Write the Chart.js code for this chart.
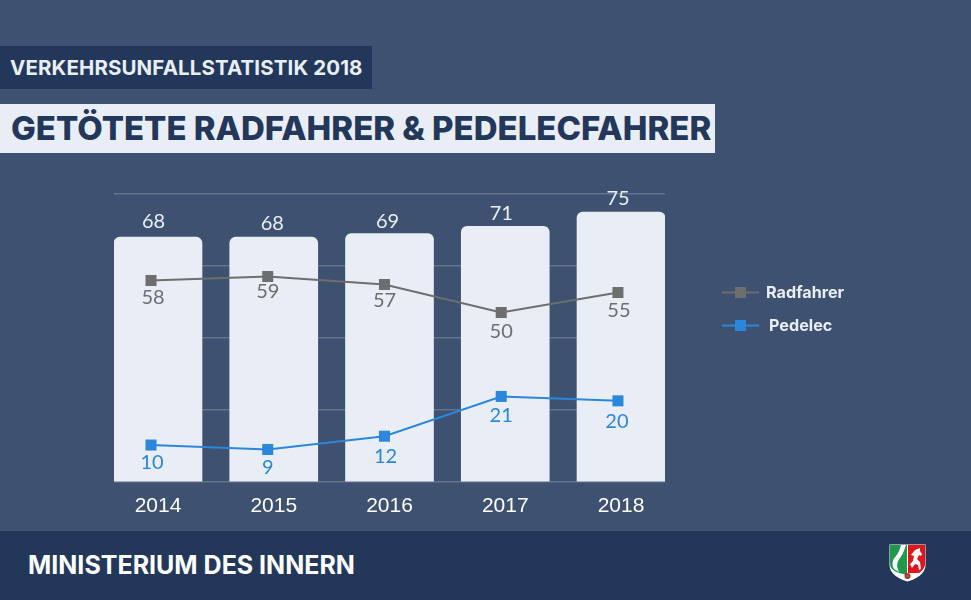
<!DOCTYPE html>
<html lang="de"><head><meta charset="utf-8">
<script src="https://cdn.jsdelivr.net/npm/chart.js@4/dist/chart.umd.min.js"></script>
<style>
html,body{margin:0;padding:0;background:#3e5170;width:971px;height:600px;overflow:hidden;font-family:Inter,sans-serif}
.a{position:absolute;white-space:nowrap}
#c{position:absolute;left:0;top:0}
#kicker{left:0;top:46px;width:372px;height:43px;background:#23375a;color:#e9eef6;font-weight:700;font-size:20.5px;line-height:43px;padding-left:10px;box-sizing:border-box;letter-spacing:.11px}
#title{left:0;top:104px;width:715px;height:49px;background:#e9eef6;color:#23375a;font-weight:800;font-size:33px;line-height:49px;padding-left:11px;box-sizing:border-box;letter-spacing:0}
#footer{left:0;top:531px;width:971px;height:69px;background:#23375a}
#ministry{left:28px;top:531px;height:69px;line-height:69px;color:#fff;font-weight:700;font-size:25px}
#crest{left:889px;top:544px}
</style></head><body>
<div class="a" id="kicker">VERKEHRSUNFALLSTATISTIK 2018</div>
<div class="a" id="title">GETÖTETE RADFAHRER &amp; PEDELECFAHRER</div>
<div class="a" id="footer"></div>
<div class="a" id="ministry">MINISTERIUM DES INNERN</div>
<svg class="a" id="crest" width="37" height="38" viewBox="0 0 37 38">
<path d="M.5.5H36.5V21C36.5 30 27 35 18.5 37.5 10 35 .5 30 .5 21Z" fill="#fff"/>
<path d="M1 1H18V31C10 29 1 27 1 20Z" fill="#1f9a4a"/>
<path d="M19 1H36V20C36 24 33 27 30 29H19Z" fill="#e2141c"/>
<path d="M12 1H17C15 7 14 10 11 14 8 18 7 22 10 28L5 25C2 20 4 15 7 12 10 8 11 5 12 1Z" fill="#fff"/>
<path d="M31 4l-5 2-4 5 3 1-1 5-3 3 2 4 3-4 3 1 1 5 2-1-1-7-3-3 2-4 2 1 1-2-2-3Z" fill="#fff"/>
<circle cx="18.5" cy="32" r="3" fill="#c8282d"/><circle cx="18.5" cy="32" r="1.2" fill="#3a9a4a"/>
</svg>
<canvas id="c" width="971" height="600"></canvas>
<script>
const categories = ["2014", "2015", "2016", "2017", "2018"];
const totalValues = [68, 68, 69, 71, 75];
const radfahrerValues = [58, 59, 57, 50, 55];
const pedelecValues = [10, 9, 12, 21, 20];

const totalNudge = [[-4.5,-16],[-1.5,-14],[-2,-12.5],[-4,-13],[-3,-13.5]];
const radNudge = [[2,17.5],[0,15.5],[0,16.5],[0,19.5],[1,18.5]];
const pedNudge = [[1,17.5],[0,18.5],[1,20.5],[0,19.5],[-1,20.5]];

const GREY = "#6e6e6e", BLUE = "#2b87dc", PALE = "#e9eef6";
const toPoints = v => v.map((y, i) => ({x: i, y}));

const labelPlugin = {
  id: "labelPlugin",
  afterDatasetsDraw(chart) {
    const ctx = chart.ctx;
    ctx.save();
    ctx.font = '20px Lato, sans-serif';
    ctx.textAlign = "center";
    ctx.textBaseline = "middle";
    const nudges = [totalNudge, radNudge, pedNudge];
    const colors = [PALE, GREY, BLUE];
    chart.data.datasets.forEach((ds, d) => {
      chart.getDatasetMeta(d).data.forEach((el, i) => {
        ctx.fillStyle = colors[d];
        ctx.fillText(String(ds.data[i].y), el.x + nudges[d][i][0], el.y + nudges[d][i][1]);
      });
    });
    const rows = [{ds: 1, y: 292.5, tx: 766}, {ds: 2, y: 325.5, tx: 769}];
    ctx.font = '700 16.2px Inter, sans-serif';
    ctx.textAlign = "left";
    rows.forEach(r => {
      const ds = chart.data.datasets[r.ds];
      ctx.strokeStyle = ds.borderColor; ctx.lineWidth = 2;
      ctx.beginPath(); ctx.moveTo(722, r.y); ctx.lineTo(759, r.y); ctx.stroke();
      ctx.fillStyle = ds.pointBackgroundColor;
      ctx.fillRect(735, r.y - 5.5, 11, 11);
      ctx.fillStyle = PALE;
      ctx.fillText(ds.label, r.tx, r.y + 0.5);
    });
    ctx.restore();
  }
};

new Chart(document.getElementById("c"), {
  type: "bar",
  data: { datasets: [
    { type: "bar", label: "Gesamt", data: toPoints(totalValues), backgroundColor: PALE,
      borderRadius: {topLeft: 6, topRight: 6}, borderSkipped: "bottom", barThickness: 88, grouped: false,
      xAxisID: "x", yAxisID: "y", order: 3 },
    { type: "line", label: "Radfahrer", data: toPoints(radfahrerValues), borderColor: GREY, borderWidth: 2,
      pointStyle: "rect", pointRadius: 7.8, pointBackgroundColor: GREY, pointBorderColor: GREY, pointBorderWidth: 0,
      tension: 0, xAxisID: "xLine", yAxisID: "yRad", order: 2 },
    { type: "line", label: "Pedelec", data: toPoints(pedelecValues), borderColor: BLUE, borderWidth: 2,
      pointStyle: "rect", pointRadius: 7.8, pointBackgroundColor: BLUE, pointBorderColor: BLUE, pointBorderWidth: 0,
      tension: 0, xAxisID: "xLine", yAxisID: "yPed", order: 1 }
  ]},
  options: {
    responsive: false, animation: false, devicePixelRatio: 1,
    layout: { padding: {left: 114, right: 306, top: 194, bottom: 0} },
    plugins: { legend: {display: false}, tooltip: {enabled: false}, title: {display: false} },
    scales: {
      x: { type: "linear", offset: false, position: "bottom", min: -0.38, max: 4.38,
        grid: {display: false}, border: {display: false},
        afterBuildTicks: ax => { ax.ticks = categories.map((_, i) => ({value: i})); },
        afterFit: ax => { ax.height = 118; },
        ticks: { autoSkip: false, maxRotation: 0, padding: 4, color: "#ffffff",
          font: {family: "'Liberation Sans', sans-serif", size: 21},
          callback: v => categories[v] }
      },
      xLine: { type: "linear", display: false, offset: false, min: -0.317, max: 4.403 },
      y: { min: 0, max: 80, position: "left",
        afterFit: ax => { ax.width = 0; },
        grid: {color: "rgba(255,255,255,.2)", lineWidth: 1.5, drawTicks: false},
        border: {display: false},
        ticks: {display: false, stepSize: 20} },
      yRad: { display: false, min: 7.625, max: 79.625 },
      yPed: { display: false, min: 1.64, max: 66.8 }
    }
  },
  plugins: [labelPlugin]
});
</script>
</body></html>
